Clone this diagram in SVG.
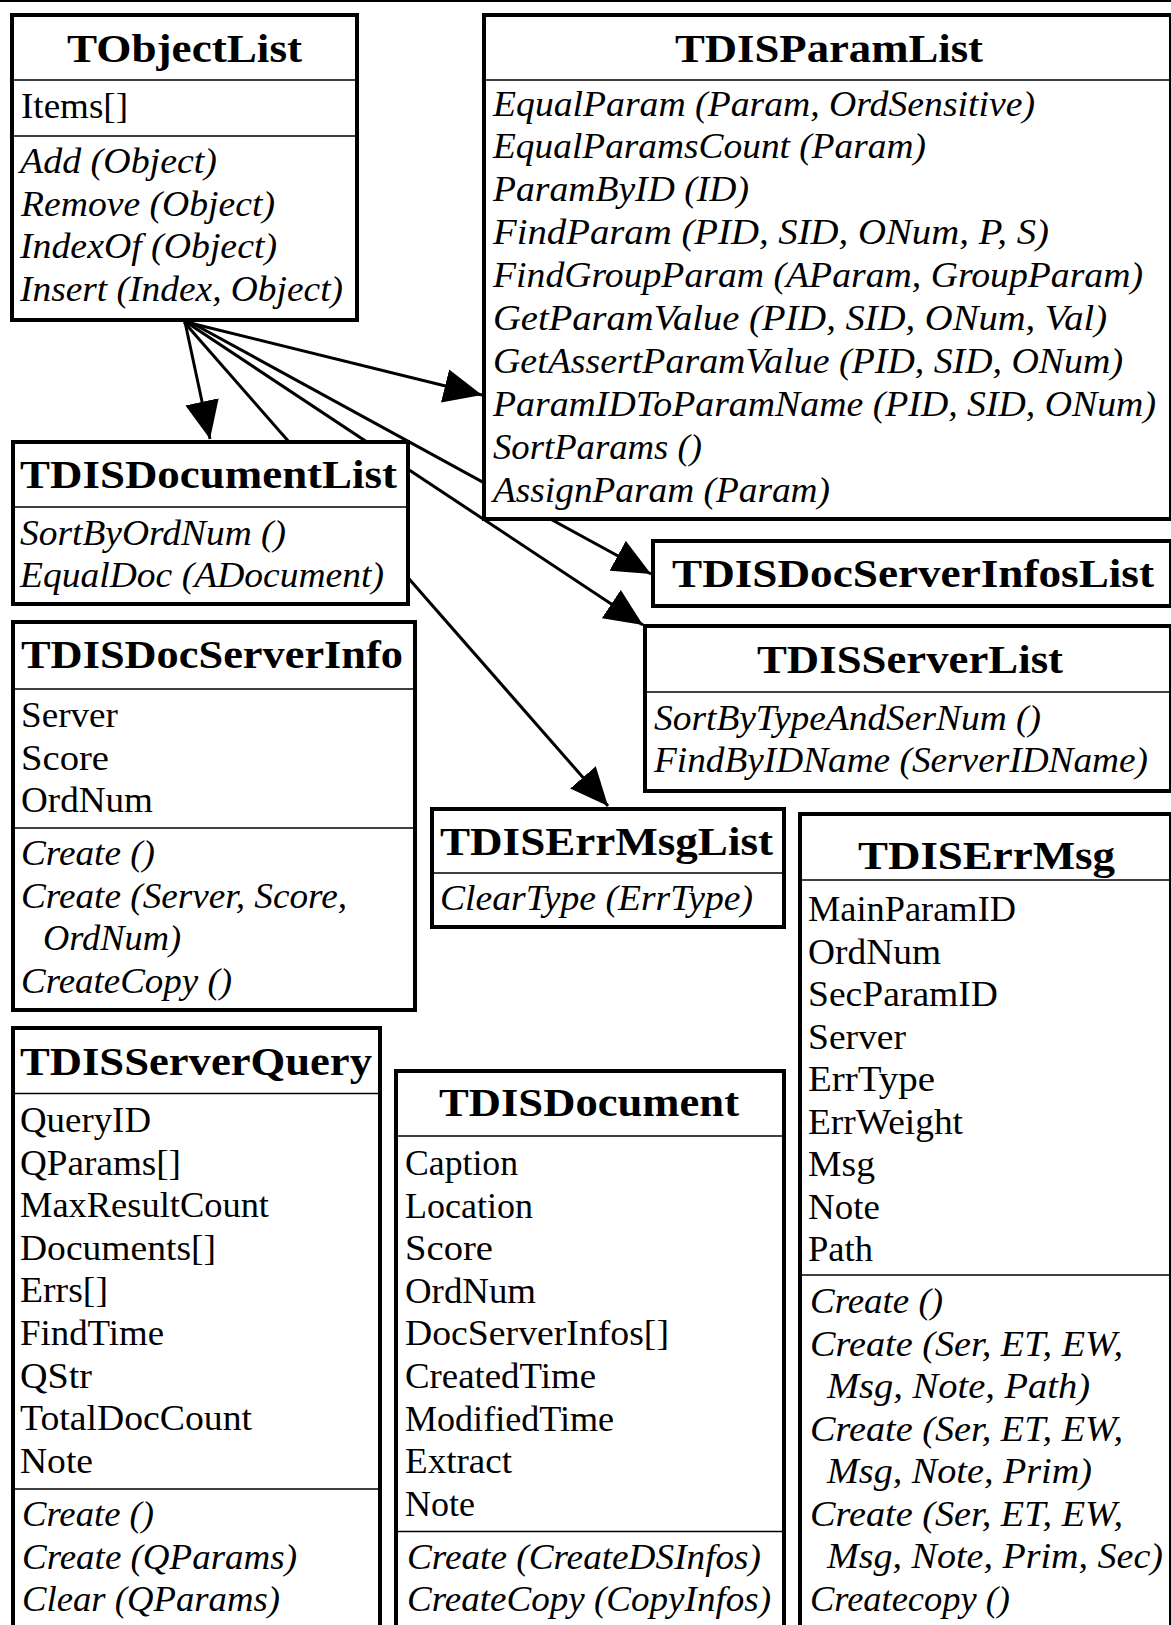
<svg xmlns="http://www.w3.org/2000/svg" width="1171" height="1625" viewBox="0 0 1171 1625">
<style>
.box{fill:#fff;stroke:#000;stroke-width:4}
.sep{stroke:#000;stroke-width:1.6}
.ttl{font-family:"Liberation Serif","Times New Roman",serif;font-size:41px;font-weight:bold;fill:#000}
.at{font-family:"Liberation Serif","Times New Roman",serif;font-size:36px;fill:#000}
.mt{font-family:"Liberation Serif","Times New Roman",serif;font-size:36px;font-style:italic;fill:#000}
.con{fill:none;stroke:#000;stroke-width:3;marker-end:url(#arr)}
</style>
<defs>
<marker id="arr" viewBox="0 0 38 34" refX="38" refY="17" markerWidth="38" markerHeight="34" markerUnits="userSpaceOnUse" orient="auto">
<path d="M0,0 L38,17 L0,34 z" fill="#000"/>
</marker>
</defs>
<rect width="1171" height="1625" fill="#fff"/>
<line x1="0" y1="1" x2="1171" y2="1" stroke="#000" stroke-width="2"/>
<g id="connectors">
<path class="con" d="M185,322 L210,439"/>
<path class="con" d="M186,322 L482,395"/>
<path class="con" d="M190,322 L651,574"/>
<path class="con" d="M186,322 L643,625"/>
<path class="con" d="M184,322 L608,806"/>
</g>
<g id="TObjectList">
<rect class="box" x="12" y="15" width="345" height="305"/>
<line class="sep" x1="14" y1="80" x2="355" y2="80"/>
<line class="sep" x1="14" y1="136" x2="355" y2="136"/>
<text class="ttl" x="67" y="62" textLength="235" lengthAdjust="spacingAndGlyphs">TObjectList</text>
<text class="at" x="21" y="118" textLength="107" lengthAdjust="spacingAndGlyphs">Items[]</text>
<text class="mt" x="20" y="173" textLength="197" lengthAdjust="spacingAndGlyphs">Add (Object)</text>
<text class="mt" x="21" y="216" textLength="254" lengthAdjust="spacingAndGlyphs">Remove (Object)</text>
<text class="mt" x="20" y="258" textLength="257" lengthAdjust="spacingAndGlyphs">IndexOf (Object)</text>
<text class="mt" x="20" y="301" textLength="323" lengthAdjust="spacingAndGlyphs">Insert (Index, Object)</text>
</g>
<g id="TDISParamList">
<rect class="box" x="484" y="15" width="687" height="504"/>
<line class="sep" x1="486" y1="80" x2="1169" y2="80"/>
<text class="ttl" x="675" y="62" textLength="308" lengthAdjust="spacingAndGlyphs">TDISParamList</text>
<text class="mt" x="493" y="115.5" textLength="542" lengthAdjust="spacingAndGlyphs">EqualParam (Param, OrdSensitive)</text>
<text class="mt" x="493" y="158.4" textLength="433" lengthAdjust="spacingAndGlyphs">EqualParamsCount (Param)</text>
<text class="mt" x="493" y="201.3" textLength="256" lengthAdjust="spacingAndGlyphs">ParamByID (ID)</text>
<text class="mt" x="493" y="244.2" textLength="556" lengthAdjust="spacingAndGlyphs">FindParam (PID, SID, ONum, P, S)</text>
<text class="mt" x="493" y="287.1" textLength="650" lengthAdjust="spacingAndGlyphs">FindGroupParam (AParam, GroupParam)</text>
<text class="mt" x="493" y="330" textLength="614" lengthAdjust="spacingAndGlyphs">GetParamValue (PID, SID, ONum, Val)</text>
<text class="mt" x="493" y="372.9" textLength="630" lengthAdjust="spacingAndGlyphs">GetAssertParamValue (PID, SID, ONum)</text>
<text class="mt" x="493" y="415.8" textLength="663" lengthAdjust="spacingAndGlyphs">ParamIDToParamName (PID, SID, ONum)</text>
<text class="mt" x="493" y="458.7" textLength="209" lengthAdjust="spacingAndGlyphs">SortParams ()</text>
<text class="mt" x="493" y="501.6" textLength="337" lengthAdjust="spacingAndGlyphs">AssignParam (Param)</text>
</g>
<g id="TDISDocumentList">
<rect class="box" x="13" y="442" width="395" height="162"/>
<line class="sep" x1="15" y1="507" x2="406" y2="507"/>
<text class="ttl" x="20" y="488" textLength="377" lengthAdjust="spacingAndGlyphs">TDISDocumentList</text>
<text class="mt" x="20" y="545" textLength="266" lengthAdjust="spacingAndGlyphs">SortByOrdNum ()</text>
<text class="mt" x="20" y="587" textLength="364" lengthAdjust="spacingAndGlyphs">EqualDoc (ADocument)</text>
</g>
<g id="TDISDocServerInfosList">
<rect class="box" x="653" y="541" width="518" height="65"/>
<text class="ttl" x="672" y="587" textLength="482" lengthAdjust="spacingAndGlyphs">TDISDocServerInfosList</text>
</g>
<g id="TDISServerList">
<rect class="box" x="645" y="626" width="526" height="165"/>
<line class="sep" x1="647" y1="692" x2="1169" y2="692"/>
<text class="ttl" x="757" y="673" textLength="306" lengthAdjust="spacingAndGlyphs">TDISServerList</text>
<text class="mt" x="654" y="730" textLength="387" lengthAdjust="spacingAndGlyphs">SortByTypeAndSerNum ()</text>
<text class="mt" x="654" y="772" textLength="494" lengthAdjust="spacingAndGlyphs">FindByIDName (ServerIDName)</text>
</g>
<g id="TDISDocServerInfo">
<rect class="box" x="13" y="622" width="402" height="388"/>
<line class="sep" x1="15" y1="689" x2="413" y2="689"/>
<line class="sep" x1="15" y1="828" x2="413" y2="828"/>
<text class="ttl" x="21" y="668" textLength="382" lengthAdjust="spacingAndGlyphs">TDISDocServerInfo</text>
<text class="at" x="21" y="727" textLength="97" lengthAdjust="spacingAndGlyphs">Server</text>
<text class="at" x="21" y="770" textLength="88" lengthAdjust="spacingAndGlyphs">Score</text>
<text class="at" x="21" y="812" textLength="132" lengthAdjust="spacingAndGlyphs">OrdNum</text>
<text class="mt" x="21" y="865" textLength="134" lengthAdjust="spacingAndGlyphs">Create ()</text>
<text class="mt" x="21" y="907.5" textLength="326" lengthAdjust="spacingAndGlyphs">Create (Server, Score,</text>
<text class="mt" x="43" y="950" textLength="138" lengthAdjust="spacingAndGlyphs">OrdNum)</text>
<text class="mt" x="21" y="992.5" textLength="211" lengthAdjust="spacingAndGlyphs">CreateCopy ()</text>
</g>
<g id="TDISErrMsgList">
<rect class="box" x="432" y="809" width="352" height="118"/>
<line class="sep" x1="434" y1="873" x2="782" y2="873"/>
<text class="ttl" x="440" y="855" textLength="333" lengthAdjust="spacingAndGlyphs">TDISErrMsgList</text>
<text class="mt" x="440" y="910" textLength="313" lengthAdjust="spacingAndGlyphs">ClearType (ErrType)</text>
</g>
<g id="TDISErrMsg">
<rect class="box" x="800" y="814" width="371" height="830"/>
<line class="sep" x1="802" y1="880" x2="1169" y2="880"/>
<line class="sep" x1="802" y1="1275" x2="1169" y2="1275"/>
<text class="ttl" x="858" y="869" textLength="257" lengthAdjust="spacingAndGlyphs">TDISErrMsg</text>
<text class="at" x="808" y="921" textLength="208" lengthAdjust="spacingAndGlyphs">MainParamID</text>
<text class="at" x="808" y="963.5" textLength="133" lengthAdjust="spacingAndGlyphs">OrdNum</text>
<text class="at" x="808" y="1006" textLength="190" lengthAdjust="spacingAndGlyphs">SecParamID</text>
<text class="at" x="808" y="1048.5" textLength="98" lengthAdjust="spacingAndGlyphs">Server</text>
<text class="at" x="808" y="1091" textLength="127" lengthAdjust="spacingAndGlyphs">ErrType</text>
<text class="at" x="808" y="1133.5" textLength="155" lengthAdjust="spacingAndGlyphs">ErrWeight</text>
<text class="at" x="808" y="1176" textLength="67" lengthAdjust="spacingAndGlyphs">Msg</text>
<text class="at" x="808" y="1218.5" textLength="72" lengthAdjust="spacingAndGlyphs">Note</text>
<text class="at" x="808" y="1261" textLength="65" lengthAdjust="spacingAndGlyphs">Path</text>
<text class="mt" x="810" y="1313" textLength="133" lengthAdjust="spacingAndGlyphs">Create ()</text>
<text class="mt" x="810" y="1355.5" textLength="313" lengthAdjust="spacingAndGlyphs">Create (Ser, ET, EW,</text>
<text class="mt" x="827" y="1398" textLength="263" lengthAdjust="spacingAndGlyphs">Msg, Note, Path)</text>
<text class="mt" x="810" y="1440.5" textLength="313" lengthAdjust="spacingAndGlyphs">Create (Ser, ET, EW,</text>
<text class="mt" x="827" y="1483" textLength="265" lengthAdjust="spacingAndGlyphs">Msg, Note, Prim)</text>
<text class="mt" x="810" y="1525.5" textLength="313" lengthAdjust="spacingAndGlyphs">Create (Ser, ET, EW,</text>
<text class="mt" x="827" y="1568" textLength="336" lengthAdjust="spacingAndGlyphs">Msg, Note, Prim, Sec)</text>
<text class="mt" x="810" y="1610.5" textLength="200" lengthAdjust="spacingAndGlyphs">Createcopy ()</text>
</g>
<g id="TDISServerQuery">
<rect class="box" x="13" y="1028" width="367" height="620"/>
<line class="sep" x1="15" y1="1093.5" x2="378" y2="1093.5"/>
<line class="sep" x1="15" y1="1489" x2="378" y2="1489"/>
<text class="ttl" x="20" y="1075" textLength="352" lengthAdjust="spacingAndGlyphs">TDISServerQuery</text>
<text class="at" x="20" y="1132" textLength="131" lengthAdjust="spacingAndGlyphs">QueryID</text>
<text class="at" x="20" y="1174.6" textLength="161" lengthAdjust="spacingAndGlyphs">QParams[]</text>
<text class="at" x="20" y="1217.2" textLength="249" lengthAdjust="spacingAndGlyphs">MaxResultCount</text>
<text class="at" x="20" y="1259.8" textLength="196" lengthAdjust="spacingAndGlyphs">Documents[]</text>
<text class="at" x="20" y="1302.4" textLength="88" lengthAdjust="spacingAndGlyphs">Errs[]</text>
<text class="at" x="20" y="1345" textLength="144" lengthAdjust="spacingAndGlyphs">FindTime</text>
<text class="at" x="20" y="1387.6" textLength="72" lengthAdjust="spacingAndGlyphs">QStr</text>
<text class="at" x="20" y="1430.2" textLength="232" lengthAdjust="spacingAndGlyphs">TotalDocCount</text>
<text class="at" x="20" y="1472.8" textLength="73" lengthAdjust="spacingAndGlyphs">Note</text>
<text class="mt" x="22" y="1526" textLength="132" lengthAdjust="spacingAndGlyphs">Create ()</text>
<text class="mt" x="22" y="1568.6" textLength="275" lengthAdjust="spacingAndGlyphs">Create (QParams)</text>
<text class="mt" x="22" y="1611" textLength="258" lengthAdjust="spacingAndGlyphs">Clear (QParams)</text>
</g>
<g id="TDISDocument">
<rect class="box" x="396" y="1071" width="388" height="580"/>
<line class="sep" x1="398" y1="1136" x2="782" y2="1136"/>
<line class="sep" x1="398" y1="1531.5" x2="782" y2="1531.5"/>
<text class="ttl" x="439" y="1116" textLength="300" lengthAdjust="spacingAndGlyphs">TDISDocument</text>
<text class="at" x="405" y="1175" textLength="113" lengthAdjust="spacingAndGlyphs">Caption</text>
<text class="at" x="405" y="1217.6" textLength="128" lengthAdjust="spacingAndGlyphs">Location</text>
<text class="at" x="405" y="1260.2" textLength="88" lengthAdjust="spacingAndGlyphs">Score</text>
<text class="at" x="405" y="1302.8" textLength="131" lengthAdjust="spacingAndGlyphs">OrdNum</text>
<text class="at" x="405" y="1345.4" textLength="264" lengthAdjust="spacingAndGlyphs">DocServerInfos[]</text>
<text class="at" x="405" y="1388" textLength="191" lengthAdjust="spacingAndGlyphs">CreatedTime</text>
<text class="at" x="405" y="1430.6" textLength="209" lengthAdjust="spacingAndGlyphs">ModifiedTime</text>
<text class="at" x="405" y="1473.2" textLength="107" lengthAdjust="spacingAndGlyphs">Extract</text>
<text class="at" x="405" y="1515.8" textLength="70" lengthAdjust="spacingAndGlyphs">Note</text>
<text class="mt" x="407" y="1569" textLength="354" lengthAdjust="spacingAndGlyphs">Create (CreateDSInfos)</text>
<text class="mt" x="407" y="1611" textLength="364" lengthAdjust="spacingAndGlyphs">CreateCopy (CopyInfos)</text>
</g>
</svg>
